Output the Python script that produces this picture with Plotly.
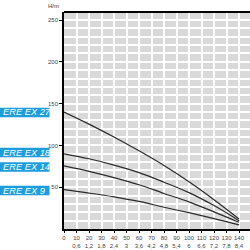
import plotly.graph_objects as go

flow = [0, 20, 40, 60, 80, 100, 120, 140]
ex27 = [140, 125.5, 110, 93.5, 76, 56.5, 35, 12]
ex18 = [90, 84, 76.5, 67.5, 56, 43.5, 28, 10]
ex14 = [75.5, 69, 61.5, 53, 42.5, 32.5, 20.5, 8]
ex9 = [47, 43, 38.5, 33, 26, 19.5, 12.5, 5]

series = [("ERE EX 27", ex27, 139.4), ("ERE EX 18", ex18, 91.5),
          ("ERE EX 14", ex14, 74.2), ("ERE EX 9", ex9, 46)]

x_ticks = list(range(0, 150, 10))
x_sub = ["", "0,6", "1,2", "1,8", "2,4", "3", "3,6", "4,2", "4,8", "5,4", "6", "6,6", "7,2", "7,8", "8,4"]
y_ticks = [50, 100, 150, 200, 250]

fig = go.Figure()
for name, vals, _ in series:
    fig.add_trace(go.Scatter(x=flow, y=vals, mode="lines", line=dict(color="#2a2a2a", width=1.2, shape="spline"),
                             showlegend=False, name=name))

font = "Liberation Sans, Arial, sans-serif"
for name, vals, ylab in series:
    fig.add_shape(type="rect", xref="paper", yref="y", x0=-0.5, x1=-0.078, y0=ylab - 5.7, y1=ylab + 5.7,
                  fillcolor="#1c9ddc", line=dict(width=0), layer="above")
    fig.add_annotation(xref="paper", yref="y", x=-0.336, y=ylab, xanchor="left", yanchor="middle",
                       text="<i>" + name + "</i>", showarrow=False, borderpad=0,
                       font=dict(family=font, size=9.3, color="white"))

fig.add_annotation(xref="paper", yref="paper", x=-0.055, y=1.0, yshift=6, xanchor="center", yanchor="middle",
                   text="H/m", showarrow=False, font=dict(family=font, size=6, color="#333"))

fig.add_shape(type="line", xref="paper", yref="paper", x0=0, x1=1, y0=1, y1=1, line=dict(color="black", width=2.2))

fig.update_layout(
    width=250, height=250, margin=dict(l=64, r=0, t=12, b=21),
    paper_bgcolor="white", plot_bgcolor="#d9d9d9",
    xaxis=dict(range=[0, 148.8], tickvals=x_ticks,
               ticktext=[f"{a}<br>{b}" for a, b in zip(x_ticks, x_sub)],
               tickangle=0,
               showgrid=True, gridcolor="white", gridwidth=1.5,
               showline=True, linecolor="black", linewidth=1.5,
               ticks="outside", ticklen=2, tickcolor="black", tickwidth=1,
               tickfont=dict(family=font, size=6, color="#444"), zeroline=False),
    yaxis=dict(range=[0, 259.6], tickvals=y_ticks,
               showgrid=True, gridcolor="white", gridwidth=1.5,
               minor=dict(dtick=10, showgrid=True, gridcolor="white", gridwidth=1.5),
               showline=True, linecolor="black", linewidth=1.5,
               ticks="outside", ticklen=3, tickcolor="black", tickwidth=1,
               tickfont=dict(family=font, size=6, color="#444"), zeroline=False),
)

fig.write_html("out.html")
